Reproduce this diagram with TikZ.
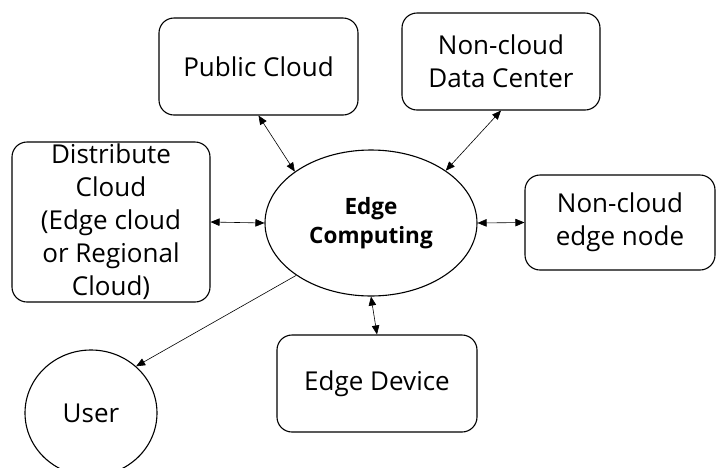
\documentclass[tikz,border=0pt]{standalone}
\usepackage{fontspec}
\setmainfont{Open Sans}
\usetikzlibrary{arrows.meta,shapes.geometric}
\begin{document}
\begin{tikzpicture}[x=1pt,y=-1pt,
  box/.style={draw,line width=1.1pt,rounded corners=15pt,inner sep=0pt,
    align=center,font=\fontsize{26}{33}\selectfont},
  oval/.style={draw,line width=1.1pt,ellipse,inner sep=0pt,align=center},
  link/.style={line width=0.6pt,{Triangle[length=9pt,width=7.5pt]}-{Triangle[length=9pt,width=7.5pt]}},
  oneway/.style={line width=0.6pt,-{Triangle[length=9pt,width=7.5pt]}}]
\useasboundingbox (0,0) rectangle (716,467);
\fill[white] (0,0) rectangle (716,467);

% central hub
\node[oval,minimum width=212pt,minimum height=146pt,
      font=\bfseries\fontsize{22.5}{29}\selectfont] (ec) at (371,223) {Edge\\Computing};

% surrounding boxes
\node[box,minimum width=199pt,minimum height=97pt] (pc) at (258.5,66.5) {Public Cloud};
\node[box,minimum width=198pt,minimum height=97pt] (dc) at (501,61.5) {Non-cloud\\Data Center};
\node[box,minimum width=190pt,minimum height=95pt] (ne) at (620,222.5) {Non-cloud\\edge node};
\node[box,minimum width=198pt,minimum height=160pt] (dist) at (111,222) {Distribute\\Cloud\\(Edge cloud\\or Regional\\Cloud)};
\node[box,minimum width=200pt,minimum height=97pt] (ed) at (377,383.5) {Edge Device};
\node[oval,minimum width=132pt,minimum height=126pt,
      font=\fontsize{26}{33}\selectfont] (u) at (91,413) {User};

% connectors
\draw[link] (pc.south) -- (ec.146);
\draw[link] (dc.south) -- (ec.35);
\draw[link] (dist.east) -- (ec.west);
\draw[link] (ec.east) -- (ne.west);
\draw[link] (ec.south) -- (ed.north);
\draw[oneway] (ec.215) -- (u.46);
\end{tikzpicture}
\end{document}
